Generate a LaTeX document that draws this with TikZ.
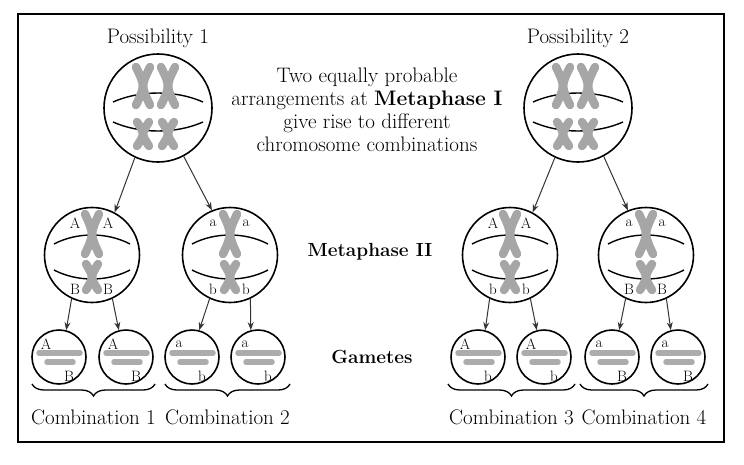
\documentclass[tikz,border=0pt]{standalone}
\usetikzlibrary{decorations.pathreplacing,arrows.meta}
\begin{document}
\begin{tikzpicture}[x=1pt,y=-1pt,
  cell/.style={circle,draw,line width=1.6pt,inner sep=0pt},
  big/.style={cell,minimum size=108pt},
  mid/.style={cell,minimum size=95pt},
  gam/.style={cell,minimum size=54pt},
  chrom/.style={draw=gray!70,line width=8.5pt,line cap=round},
  bar/.style={draw=gray!65,line width=5.5pt,line cap=round},
  spin/.style={draw,line width=1.4pt},
  arr/.style={draw=black!80,line width=1pt,-{Stealth[length=8pt,width=6pt]}},
  lbl/.style={font=\fontsize{15}{16}\selectfont,inner sep=0pt},
  txt/.style={font=\fontsize{21}{23}\selectfont},
  brc/.style={draw,line width=1.3pt,decorate,decoration={brace,amplitude=12pt}}]
\useasboundingbox (0,0) rectangle (744,464);
\draw[line width=1.5pt] (18,14) rectangle (724,442);
\newcommand\chromx[4]{% cx cy halfw halfh
  \draw[chrom] ({#1-#3},{#2-#4}) .. controls ({#1+#3*0.3},{#2}) .. ({#1-#3},{#2+#4});
  \draw[chrom] ({#1+#3},{#2-#4}) .. controls ({#1-#3*0.3},{#2}) .. ({#1+#3},{#2+#4});}
\newcommand\spindle[4]{%
  \draw[spin] ({#1-#3},{#2-#4}) .. controls ({#1-#3*0.4},{#2-#4-12}) and ({#1+#3*0.4},{#2-#4-12}) .. ({#1+#3},{#2-#4});
  \draw[spin] ({#1-#3},{#2+#4}) .. controls ({#1-#3*0.4},{#2+#4+12}) and ({#1+#3*0.4},{#2+#4+12}) .. ({#1+#3},{#2+#4});}
% Metaphase I cells
\foreach \cx/\nm/\t in {158/p1/Possibility 1,578/p2/Possibility 2}{
  \node[big] (\nm) at (\cx,108) {};
  \node[txt] (\nm t) at (\cx,38) {\t};
  \spindle{\cx}{112}{45}{10}
  \chromx{\cx-15}{86}{7}{19}
  \chromx{\cx+10}{86}{7}{19}
  \chromx{\cx-15}{134}{6}{12}
  \chromx{\cx+10}{134}{6}{12}
}
\node[txt,align=center] (desc) at (367,110) {Two equally probable\\arrangements at \textbf{Metaphase I}\\give rise to different\\chromosome combinations};
\node[txt,font=\fontsize{19}{22}\selectfont\bfseries] (m2t) at (370,252) {Metaphase II};
\node[txt,font=\fontsize{19}{22}\selectfont\bfseries] (gt) at (372,357) {Gametes};
% Metaphase II cells
\foreach \cx/\nm/\u/\l in {92/m1/A/B,230/m2/a/b,510/m3/A/b,646/m4/a/B}{
  \node[mid] (\nm) at (\cx,255) {};
  \spindle{\cx}{257}{38}{13}
  \chromx{\cx}{234}{7}{20}
  \chromx{\cx}{277}{6}{13}
  \node[lbl] at (\cx-17,223) {\u};
  \node[lbl] at (\cx+16,223) {\u};
  \node[lbl] at (\cx-17,289) {\l};
  \node[lbl] at (\cx+16,289) {\l};
}
% Gametes
\foreach \cx/\nm/\u/\l in {59/g1/A/B,126/g2/A/B,192/g3/a/b,258/g4/a/b,478/g5/A/b,544/g6/A/b,612/g7/a/B,678/g8/a/B}{
  \node[gam] (\nm) at (\cx,357) {};
  \draw[bar] (\cx-20,353) -- (\cx+21,353);
  \draw[bar] (\cx-12,362) -- (\cx+14,362);
  \node[lbl] at (\cx-13,344) {\u};
  \node[lbl] at (\cx+10,376) {\l};
}
% arrows
\foreach \a/\b in {p1/m1,p2/m3}{\draw[arr] (\a.245) -- (\b.62);}
\foreach \a/\b in {p1/m2,p2/m4}{\draw[arr] (\a.298) -- (\b.112);}
\foreach \a/\b/\c in {m1/g1/g2,m2/g3/g4,m3/g5/g6,m4/g7/g8}{
  \draw[arr] (\a.245) -- (\b.75);
  \draw[arr] (\a.295) -- (\c.105);}
% braces
\foreach \x/\y/\n/\t in {32/155/c1/Combination 1,165/290/c2/Combination 2,448/575/c3/Combination 3,580/708/c4/Combination 4}{
  \coordinate (\n a) at (\y,384);
  \coordinate (\n b) at (\x,384);
  \draw[brc] (\n a) -- (\n b);
  \node[txt] (\n) at ({(\x+\y)/2},417) {\t};
}
\end{tikzpicture}
\end{document}
